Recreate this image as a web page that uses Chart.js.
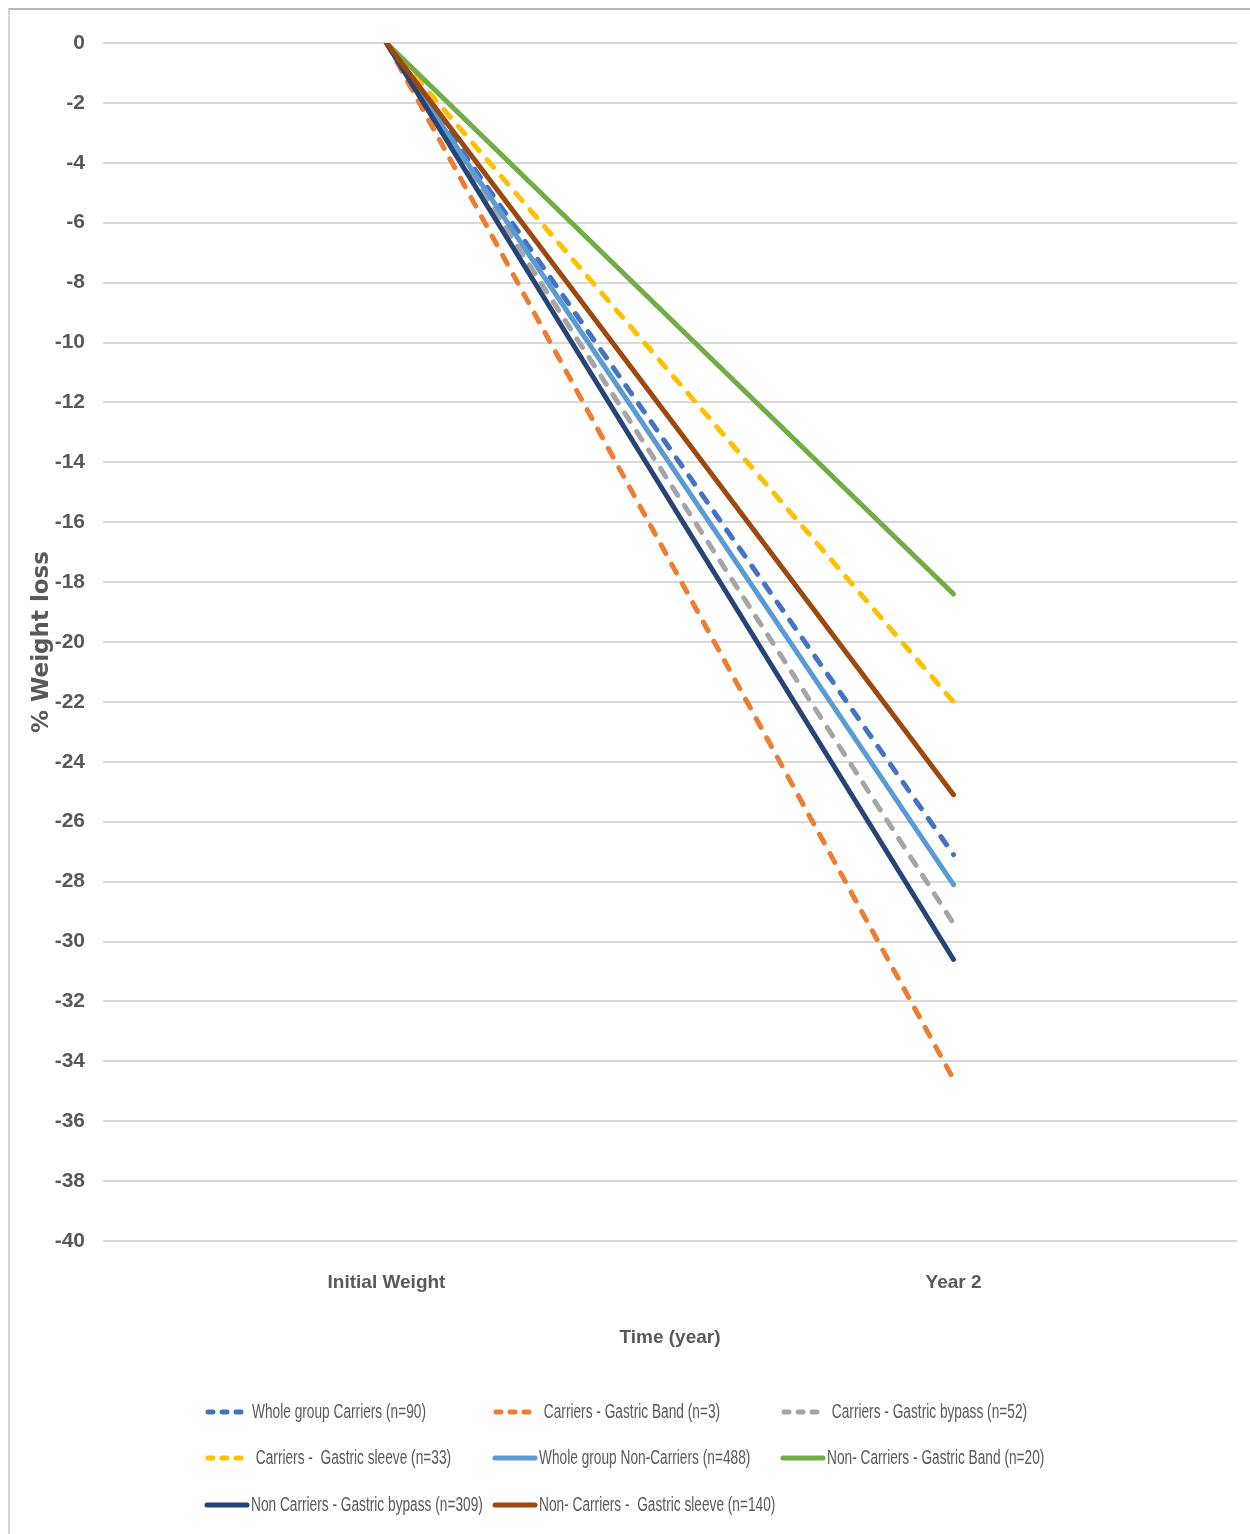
<!DOCTYPE html>
<html>
<head>
<meta charset="utf-8">
<script src="https://cdn.jsdelivr.net/npm/chart.js@4/dist/chart.umd.min.js"></script>
<style>
  html, body { margin: 0; padding: 0; background: #fff; }
  #wrap { position: relative; width: 1250px; height: 1534px; }
  #frame { position: absolute; left: 8px; top: 8px; right: 0; bottom: 0;
           border-top: 2px solid #b8b8b8; border-left: 2px solid #d4d4d4; pointer-events: none; }
  canvas { position: absolute; left: 0; top: 0; }
</style>
</head>
<body>
<div id="wrap">
  <canvas id="c" width="1250" height="1534"></canvas>
  <div id="frame"></div>
</div>
<script>
// Time points
const categories = ['Initial Weight', 'Year 2'];

// % weight loss per group
const wholeGroupCarriers     = [0, -27.1];
const carriersBand           = [0, -34.6];
const carriersBypass         = [0, -29.4];
const carriersSleeve         = [0, -22.0];
const wholeGroupNonCarriers  = [0, -28.1];
const nonCarriersBand        = [0, -18.4];
const nonCarriersBypass      = [0, -30.6];
const nonCarriersSleeve      = [0, -25.1];

// Legend labels
const seriesLabels = [
  'Whole group Carriers (n=90)',
  ' Carriers - Gastric Band (n=3)',
  ' Carriers - Gastric bypass (n=52)',
  ' Carriers -  Gastric sleeve (n=33)',
  'Whole group Non-Carriers (n=488)',
  'Non- Carriers - Gastric Band (n=20)',
  'Non Carriers - Gastric bypass (n=309)',
  'Non- Carriers -  Gastric sleeve (n=140)'
];

// Y axis range
const yMin = -40, yMax = 0, yStep = 2;

const seriesValues = [
  wholeGroupCarriers, carriersBand, carriersBypass, carriersSleeve,
  wholeGroupNonCarriers, nonCarriersBand, nonCarriersBypass, nonCarriersSleeve
];
const colors = ['#4472C4', '#ED7D31', '#A5A5A5', '#FFC000', '#5B9BD5', '#70AD47', '#264478', '#9E480E'];
const dashed = [true, true, true, true, false, false, false, false];

const SANS = "'Liberation Sans', Arial, sans-serif";
const TEXT = '#595959';

const datasets = seriesValues.map((vals, i) => ({
  label: seriesLabels[i],
  data: vals,
  borderColor: colors[i],
  backgroundColor: colors[i],
  borderWidth: 5,
  borderDash: dashed[i] ? [10, 12] : [],
  borderCapStyle: 'round',
  borderJoinStyle: 'round',
  pointRadius: 0,
  pointHoverRadius: 0,
  tension: 0,
  fill: false,
  order: seriesValues.length - 1 - i
}));

// Legend laid out in a three-column grid below the x axis title
const gridLegend = {
  id: 'gridLegend',
  afterDraw(chart) {
    const ctx = chart.ctx;
    const cols = [205, 493, 781];
    const rows = [1412, 1458, 1505];
    ctx.save();
    ctx.font = '20px ' + SANS;
    ctx.fillStyle = TEXT;
    ctx.textBaseline = 'middle';
    // condensed glyphs: squeeze text horizontally
    const sx = 174 / ctx.measureText('Whole group Carriers (n=90)').width;
    chart.data.datasets.forEach((ds, i) => {
      const x = cols[i % 3];
      const y = rows[Math.floor(i / 3)];
      const isDashed = ds.borderDash && ds.borderDash.length;
      ctx.strokeStyle = ds.borderColor;
      ctx.lineWidth = 5;
      ctx.lineCap = 'round';
      ctx.beginPath();
      if (isDashed) {
        ctx.setLineDash([5, 9]);
        ctx.moveTo(x + 3, y);
        ctx.lineTo(x + 40, y);
      } else {
        ctx.setLineDash([]);
        ctx.moveTo(x + 2, y);
        ctx.lineTo(x + 42, y);
      }
      ctx.stroke();
      ctx.setLineDash([]);
      const tx = x + (isDashed ? 47 : 46);
      ctx.save();
      ctx.translate(tx, y);
      ctx.scale(sx, 1);
      ctx.fillText(ds.label, 0, 0);
      ctx.restore();
    });
    ctx.restore();
  }
};

new Chart(document.getElementById('c'), {
  type: 'line',
  data: { labels: categories, datasets },
  plugins: [gridLegend],
  options: {
    responsive: false,
    animation: false,
    devicePixelRatio: 1,
    layout: { padding: { top: 43, right: 13, left: 0, bottom: 173 } },
    plugins: {
      legend: { display: false },
      tooltip: { enabled: false },
      title: { display: false }
    },
    scales: {
      x: {
        type: 'category',
        offset: true,
        grid: { display: false, drawTicks: false },
        border: { display: false },
        ticks: { color: TEXT, font: { family: SANS, size: 19, weight: 'bold' }, padding: 30 },
        title: {
          display: true,
          text: 'Time (year)',
          color: TEXT,
          font: { family: SANS, size: 19, weight: 'bold' },
          padding: { top: 0, bottom: 12 }
        },
        afterFit(scale) { scale.height = 120; }
      },
      y: {
        min: yMin,
        max: yMax,
        ticks: {
          stepSize: yStep,
          color: TEXT,
          font: { family: SANS, size: 21, weight: 'bold' },
          padding: 18
        },
        grid: { color: '#d9d9d9', lineWidth: 2, drawTicks: false },
        border: { display: false },
        title: {
          display: true,
          text: '% Weight loss',
          color: TEXT,
          font: { family: "'DejaVu Sans', sans-serif", size: 23, weight: 'bold' },
          padding: { top: 28, bottom: 0 }
        },
        afterFit(scale) { scale.width = 103; }
      }
    }
  }
});
</script>
</body>
</html>
